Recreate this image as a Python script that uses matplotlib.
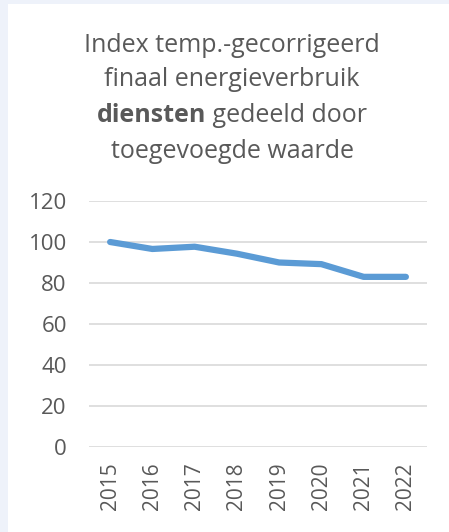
import matplotlib.pyplot as plt
from matplotlib.patches import Rectangle

plt.rcParams["font.family"] = ["Open Sans", "DejaVu Sans"]

years = ["2015", "2016", "2017", "2018", "2019", "2020", "2021", "2022"]
index_values = [100, 96.6, 97.7, 94.3, 90.0, 89.2, 83.0, 83.0]
y_ticks = [0, 20, 40, 60, 80, 100, 120]

text_color = "#595959"
line_color = "#5B9BD5"
grid_color = "#D9D9D9"

W, H = 449, 532
fig = plt.figure(figsize=(W / 100, H / 100), dpi=100)
fig.patch.set_facecolor("#EEF2FA")

# white chart panel behind everything
fig.patches.append(Rectangle((8 / W, 0), 1 - 8 / W, 1 - 4 / H, transform=fig.transFigure,
                             facecolor="white", edgecolor="none", zorder=-10))

ax = fig.add_axes([89 / W, (H - 447) / H, (427 - 89) / W, (447 - 201) / H])
ax.set_facecolor("none")
x = list(range(len(years)))
ax.plot(x, index_values, color=line_color, linewidth=4.5, solid_capstyle="round",
        solid_joinstyle="round", zorder=3)

ax.set_xlim(-0.5, len(years) - 0.5)
ax.set_ylim(0, 120)
ax.set_yticks(y_ticks)
ax.set_xticks(x)
ax.set_xticklabels(years, rotation=90)
ax.tick_params(axis="both", length=0, colors=text_color)
ax.tick_params(axis="y", pad=16, labelsize=16)
ax.tick_params(axis="x", pad=11, labelsize=15)
ax.grid(axis="y", color=grid_color, linewidth=1.2)
ax.set_axisbelow(True)
for s in ax.spines.values():
    s.set_visible(False)

# title, 4 lines, with "diensten" in bold
cx = 232 / W
fs = 18
fig.text(cx, 1 - 45 / H, "Index temp.-gecorrigeerd", ha="center", va="center",
         fontsize=fs, color=text_color)
fig.text(cx, 1 - 80 / H, "finaal energieverbruik", ha="center", va="center",
         fontsize=fs, color=text_color)
fig.text(cx, 1 - 151 / H, "toegevoegde waarde", ha="center", va="center",
         fontsize=fs, color=text_color)

renderer = fig.canvas.get_renderer()
t_bold = fig.text(0, 1 - 116 / H, "diensten", ha="left", va="center",
                  fontsize=fs, color=text_color, fontweight="bold")
t_rest = fig.text(0, 1 - 116 / H, " gedeeld door", ha="left", va="center",
                  fontsize=fs, color=text_color)
wb = t_bold.get_window_extent(renderer).width / fig.bbox.width
wr = t_rest.get_window_extent(renderer).width / fig.bbox.width
start = cx - (wb + wr) / 2
t_bold.set_x(start)
t_rest.set_x(start + wb)

fig.savefig("out.png", dpi=100)
